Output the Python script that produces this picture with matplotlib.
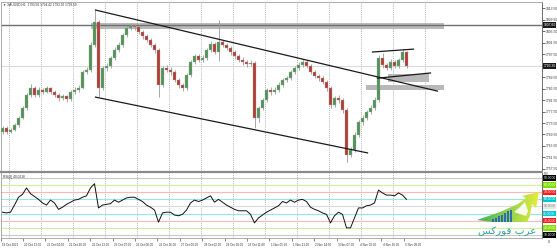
import matplotlib
matplotlib.use("Agg")
import matplotlib.pyplot as plt
import matplotlib.transforms as mtransforms
from matplotlib.patches import Rectangle, Polygon
from matplotlib.colors import LinearSegmentedColormap
import numpy as np

plt.rcParams['font.family'] = ['Liberation Sans', 'DejaVu Sans']

# XAUUSD H1 screenshot, candles grouped (one candle ~ 4 hours here)
first_open = 1770.5
closes = [1771.8, 1770.4, 1771.1, 1772.8, 1775.2, 1778.7, 1783.2, 1785.7, 1783.2, 1785.0,
          1784.3, 1785.7, 1784.3, 1783.2, 1782.2, 1782.9, 1781.8, 1784.3, 1785.0, 1785.7,
          1791.2, 1791.9, 1800.6, 1808.6, 1785.7, 1792.6, 1793.3, 1796.1, 1798.9, 1800.6,
          1804.1, 1806.5, 1807.2, 1806.9, 1805.1, 1803.8, 1802.4, 1800.6, 1798.9, 1786.7,
          1792.6, 1792.0, 1791.2, 1788.5, 1786.7, 1785.7, 1790.2, 1794.7, 1796.8, 1795.4,
          1796.1, 1798.9, 1801.0, 1798.2, 1801.7, 1800.6, 1799.6, 1798.2, 1796.8, 1795.4,
          1794.7, 1794.0, 1794.4, 1775.2, 1778.7, 1781.5, 1785.0, 1784.3, 1785.0, 1786.7,
          1788.5, 1789.1, 1791.2, 1792.6, 1793.7, 1794.7, 1793.3, 1791.2, 1789.8, 1789.1,
          1787.8, 1785.7, 1779.8, 1782.2, 1781.5, 1778.0, 1762.4, 1764.1, 1769.3, 1773.8,
          1775.2, 1777.3, 1778.7, 1781.5, 1796.1, 1793.7, 1792.6, 1794.7, 1793.3, 1795.4,
          1798.2, 1793.3]
highs = [1772.6, 1772.3, 1771.9, 1773.5, 1776.0, 1779.4, 1784.1, 1787.0, 1786.3, 1785.9,
         1785.8, 1786.5, 1786.2, 1784.9, 1783.8, 1783.7, 1783.4, 1785.0, 1785.9, 1786.8,
         1792.0, 1792.9, 1801.8, 1812.8, 1809.4, 1793.4, 1794.5, 1796.9, 1799.8, 1801.6,
         1804.9, 1807.4, 1808.2, 1808.0, 1807.5, 1805.8, 1804.5, 1803.1, 1801.3, 1799.5,
         1793.4, 1793.8, 1792.9, 1791.9, 1789.2, 1787.5, 1790.9, 1795.5, 1797.6, 1797.5,
         1797.0, 1799.7, 1801.9, 1801.8, 1809.3, 1802.5, 1801.4, 1800.3, 1799.0, 1797.5,
         1796.3, 1795.5, 1795.3, 1795.0, 1779.5, 1782.3, 1785.8, 1786.0, 1785.9, 1787.6,
         1789.3, 1790.0, 1792.0, 1793.5, 1794.6, 1795.8, 1795.4, 1794.0, 1792.0, 1790.7,
         1789.9, 1788.5, 1786.4, 1783.0, 1783.1, 1782.2, 1778.7, 1765.3, 1770.2, 1774.7,
         1776.2, 1778.1, 1779.6, 1782.4, 1797.0, 1797.8, 1794.5, 1795.6, 1795.4, 1796.2,
         1799.3, 1798.6]
lows = [1769.8, 1769.6, 1769.9, 1770.6, 1772.2, 1774.8, 1778.1, 1782.6, 1782.4, 1782.6,
        1783.5, 1783.9, 1783.6, 1782.4, 1781.3, 1781.6, 1780.9, 1781.2, 1783.7, 1784.4,
        1785.2, 1790.4, 1791.3, 1799.9, 1782.5, 1784.9, 1791.6, 1792.7, 1795.5, 1798.1,
        1800.0, 1803.5, 1805.8, 1805.9, 1804.3, 1802.9, 1801.6, 1799.8, 1798.0, 1782.5,
        1786.0, 1791.1, 1790.3, 1787.6, 1785.6, 1784.6, 1785.0, 1789.6, 1794.0, 1794.6,
        1794.7, 1795.5, 1798.2, 1797.4, 1794.9, 1799.8, 1798.8, 1797.3, 1795.9, 1794.6,
        1793.8, 1793.1, 1793.2, 1771.8, 1774.0, 1778.0, 1780.9, 1783.2, 1783.6, 1784.3,
        1786.0, 1787.7, 1788.5, 1790.5, 1791.9, 1793.0, 1792.5, 1790.4, 1789.0, 1788.2,
        1786.9, 1784.8, 1778.6, 1779.0, 1780.6, 1777.0, 1759.9, 1761.5, 1763.5, 1768.7,
        1772.9, 1774.5, 1776.5, 1778.0, 1780.8, 1792.8, 1791.8, 1792.0, 1792.5, 1792.7,
        1794.8, 1792.6]
rsi = [42, 41, 42, 52, 63, 67, 76, 68, 64, 60,
       55, 52, 59, 55, 46, 49, 53, 56, 59, 60,
       63, 65, 76, 82, 48, 52, 53, 54, 59, 56,
       59, 62, 63, 63, 60, 57, 52, 49, 45, 28,
       41, 42, 42, 38, 37, 39, 45, 55, 59, 57,
       59, 62, 65, 56, 60, 56, 52, 49, 46, 44,
       44, 44, 39, 27, 34, 38, 42, 45, 48, 51,
       57, 55, 59, 56, 59, 60, 57, 49, 46, 44,
       41, 39, 27, 37, 42, 39, 20, 20, 34, 48,
       48, 51, 52, 55, 73, 69, 66, 66, 65, 69,
       66, 60]

price_ticks = [1757.50 + 4.0 * k for k in range(15)]
date_labels = ["19 Oct 2021", "20 Oct 13:00", "21 Oct 04:00", "21 Oct 20:00", "22 Oct 13:00",
               "25 Oct 07:00", "26 Oct 00:00", "26 Oct 16:00", "27 Oct 09:00", "28 Oct 02:00",
               "28 Oct 18:00", "29 Oct 11:00", "1 Nov 05:00", "1 Nov 21:00", "2 Nov 14:00",
               "3 Nov 07:00", "4 Nov 00:00", "4 Nov 16:00", "5 Nov 09:00"]
rsi_levels = [10, 20, 30, 40, 50, 60, 70, 80, 90]
level_line_colors = ['#c8c8c8', '#cdf29a', '#f7baba', '#96e8e8', '#dadada',
                     '#96e8e8', '#f7baba', '#cdf29a', '#c8c8c8']
level_box_colors = ['#000000', '#7fe000', '#ff1a1a', '#00c8d0', '#e6e6e6',
                    '#00c8d0', '#ff1a1a', '#7fe000', '#000000']

# drawn objects (bar index, price)
upper_channel = [(23.25, 1812.8), (108.75, 1784.6)]
lower_channel = [(23.25, 1782.5), (91.25, 1763.1)]
wedge_top = [(92.5, 1798.2), (102.75, 1799.2)]
wedge_bottom = [(93.75, 1789.1), (107.0, 1790.9)]
resistance = 1807.6
band_hi = (22.0, 110.25, 1806.2, 1808.3)
band_lo = (90.75, 110.25, 1785.0, 1786.7)
support_box = (96.25, 106.5, 1787.8, 1790.5)

n = len(closes)
opens = [first_open] + closes[:-1]
xs = np.arange(n)

fig = plt.figure(figsize=(5.57, 2.5), dpi=100)
fig.patch.set_facecolor('white')
W, H = 557.0, 250.0
ax = fig.add_axes([0.5 / W, (H - 171) / H, 541 / W, 169 / H])
axr = fig.add_axes([0.5 / W, (H - 238) / H, 541 / W, 66 / H])

xlim = (-0.5, 134.75)
grid_x = [1.5 + 8 * k for k in range(14)]
for a in (ax, axr):
    a.set_xlim(*xlim)
    a.set_facecolor('white')
    for x in grid_x:
        a.axvline(x, color='#9a9a9a', lw=0.5, ls=(0, (1.5, 1.5)), zorder=0)
    for s in a.spines.values():
        s.set_color('#a0a0a0')
        s.set_linewidth(0.6)
    a.spines['right'].set_color('#555555')

ax.set_ylim(1756.8, 1815.6)

# zones and lines
for z in (band_hi, band_lo):
    ax.add_patch(Rectangle((z[0], z[2]), z[1] - z[0], z[3] - z[2],
                           facecolor='#b9b9b9', edgecolor='none', zorder=1))
ax.add_patch(Rectangle((support_box[0], support_box[2]), support_box[1] - support_box[0],
                       support_box[3] - support_box[2], facecolor='#b9b9b9', edgecolor='none', zorder=1))
ax.axhline(resistance, color='#707070', lw=1.0, zorder=2)
ax.axhline(closes[-1], color='#d4d4d4', lw=0.6, zorder=1)

# candles
for i in range(n):
    o, c, h, l = opens[i], closes[i], highs[i], lows[i]
    up = c >= o
    ax.vlines(xs[i], l, h, color='#9a9a9a', lw=0.6, zorder=3)
    ax.add_patch(Rectangle((xs[i] - 0.3, min(o, c)), 0.6, max(abs(c - o), 0.15),
                           facecolor='#4f9455' if up else '#b53a33',
                           edgecolor='#a8a8a8', lw=0.25, zorder=4))

for seg in (upper_channel, lower_channel, wedge_top, wedge_bottom):
    ax.plot([seg[0][0], seg[1][0]], [seg[0][1], seg[1][1]], color='#1a1a1a', lw=0.9, zorder=5)

# price scale; labels hidden behind the two marker boxes are left out
ax.yaxis.tick_right()
ax.set_yticks(price_ticks)
ax.set_yticklabels(["" if min(abs(p - resistance), abs(p - closes[-1])) < 1.6 else f"{p:.2f}"
                    for p in price_ticks])
ax.tick_params(axis='y', labelsize=2.4, length=2, width=0.5, pad=1, colors='#333333')
ax.set_xticks([])


def side_box(a, y, text, fc, tc):
    a.text(1.0035, y, text, transform=mtransforms.blended_transform_factory(a.transAxes, a.transData),
           fontsize=2.4, color=tc, va='center', ha='left',
           bbox=dict(boxstyle='square,pad=0.2', fc=fc, ec='none'), zorder=10, clip_on=False)


side_box(ax, resistance, f"{resistance:.2f}", '#1a1a1a', 'white')
side_box(ax, closes[-1], f"{closes[-1]:.2f}", '#1a1a1a', 'white')

ax.text(0.004, 0.994, "\u25bc XAUUSD,H1  1793.58 1794.42 1793.30 1793.59", transform=ax.transAxes,
        fontsize=2.3, color='#333333', va='top', ha='left')

# RSI pane
axr.set_ylim(5.8, 98.4)
for lv, lc in zip(rsi_levels, level_line_colors):
    axr.axhline(lv, color=lc, lw=0.8, zorder=1)
axr.plot(xs, rsi, color='#111111', lw=0.7, zorder=4)
axr.yaxis.tick_right()
axr.set_yticks([])
for lv, bc in zip(rsi_levels, level_box_colors):
    tc = '#888888' if lv == 50 else 'white'
    side_box(axr, lv, f"{lv:.4f}", bc, tc)
axr.text(1.0035, 0.97, "RSI", transform=axr.transAxes, fontsize=2.0,
         color='#333333', va='center', ha='left', clip_on=False)
axr.text(1.012, -0.06, "0", transform=axr.transAxes, fontsize=2.4,
         color='#333333', va='center', ha='left', clip_on=False)
axr.text(0.004, 0.955, "RSI(8) 40.0218", transform=axr.transAxes, fontsize=2.3,
         color='#333333', va='top', ha='left')

date_pos = np.arange(len(date_labels)) * 5.6 - 0.5
axr.set_xticks(date_pos)
axr.set_xticklabels([])
axr.tick_params(axis='x', length=2, width=0.5, colors='#555555')
for p, lab in zip(date_pos, date_labels):
    axr.text(p + 0.35, -0.11, lab,
             transform=mtransforms.blended_transform_factory(axr.transData, axr.transAxes),
             fontsize=2.2, color='#333333', va='center', ha='left', clip_on=False)

# separator between panes
fig.add_artist(plt.Line2D([0, 541 / W], [(H - 171.5) / H] * 2, color='#8a8a8a', lw=1.6))

# logo (bottom right): gradient arrow, blue bars, arabic name
lg = fig.add_axes([470 / W, (H - 238) / H, 72 / W, 48 / H])
lg.set_xlim(0, 72)
lg.set_ylim(0, 48)
lg.axis('off')
arrow = Polygon([(7, 18), (30, 26), (48, 34), (56, 40), (52, 42), (69, 46), (66, 30),
                 (62, 34), (60, 22), (57, 16), (22, 16)], closed=True, fc='none', ec='none')
lg.add_patch(arrow)
cmap = LinearSegmentedColormap.from_list('logo', ['#3fae5a', '#8fd14f', '#e9ee3a'])
grad = np.linspace(0, 1, 256).reshape(1, -1)
im = lg.imshow(grad, extent=(6, 70, 15, 47), cmap=cmap, aspect='auto', origin='lower')
im.set_clip_path(arrow)
lg.add_patch(Polygon([(44, 26), (50, 31), (55, 36), (58, 27), (56, 22), (50, 24)],
                     closed=True, fc='white', ec='none', alpha=0.9))
for bx, bh in zip([22, 25, 28, 31, 34, 37, 40], [3, 4, 6, 7, 9, 11, 12]):
    lg.add_patch(Rectangle((bx, 16), 1.8, bh, fc='#2f6bb3', ec='none'))
lg.text(37, 7, "\ufeb2\ufedb\ufead\ufeee\ufed3 \ufe8f\ufeae\ufecb", fontsize=7.5, color='#2fa3a0',
        ha='center', va='center', family=['DejaVu Sans'])

fig.savefig('out.png', dpi=100, facecolor='white')
